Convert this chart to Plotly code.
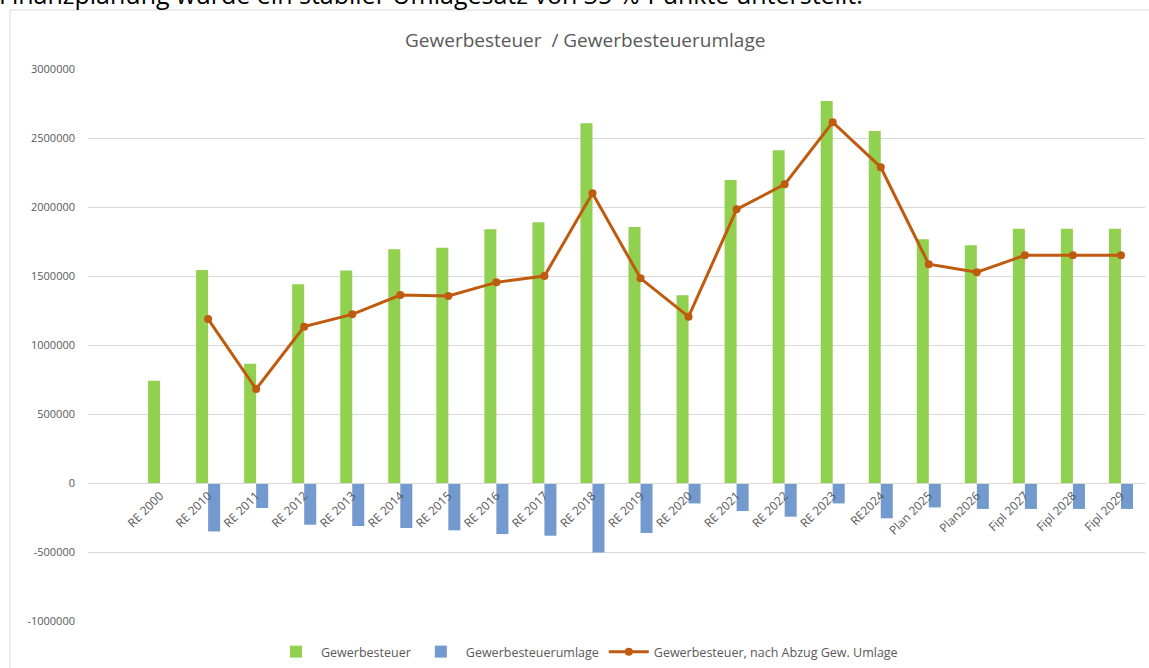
import plotly.graph_objects as go

categories = ["RE 2000", "RE 2010", "RE 2011", "RE 2012", "RE 2013", "RE 2014", "RE 2015",
              "RE 2016", "RE 2017", "RE 2018", "RE 2019", "RE 2020", "RE 2021", "RE 2022",
              "RE 2023", "RE2024", "Plan 2025", "Plan2026", "Fipl 2027", "Fipl 2028", "Fipl 2029"]

gewerbesteuer = [741000, 1543000, 864000, 1440000, 1539000, 1693000, 1705000,
                 1838000, 1889000, 2606000, 1855000, 1360000, 2196000, 2411000,
                 2768000, 2551000, 1766000, 1722000, 1843000, 1843000, 1843000]

umlage = [None, -351000, -181000, -302000, -312000, -326000, -343000,
          -370000, -382000, -503000, -362000, -148000, -203000, -244000,
          -148000, -256000, -177000, -188000, -188000, -188000, -188000]

nach_abzug = [None, 1188000, 681000, 1133000, 1222000, 1362000, 1355000,
              1454000, 1500000, 2099000, 1483000, 1205000, 1983000, 2164000,
              2614000, 2288000, 1585000, 1527000, 1650000, 1650000, 1650000]

y_ticks = [-1000000, -500000, 0, 500000, 1000000, 1500000, 2000000, 2500000, 3000000]

xs = list(range(len(categories)))
GRAY = "#595959"
FONT = "Open Sans, Noto Sans, sans-serif"

fig = go.Figure()
fig.add_trace(go.Bar(x=xs, y=gewerbesteuer, name="Gewerbesteuer",
                     marker=dict(color="#92D050", line=dict(width=0))))
fig.add_trace(go.Bar(x=xs, y=umlage, name="Gewerbesteuerumlage",
                     marker=dict(color="#729ACE", line=dict(width=0))))
fig.add_trace(go.Scatter(x=xs, y=nach_abzug, name="Gewerbesteuer, nach Abzug Gew. Umlage",
                         mode="lines+markers",
                         line=dict(color="#C05A0E", width=3),
                         marker=dict(color="#C05A0E", size=8)))

W, H = 1149, 668
L, R, T, B = 88, 4, 69, 47
pw, ph = W - L - R, H - T - B

def px_x(x):
    return (x - L) / pw

def px_y(y):
    return (H - B - y) / ph

fig.update_layout(
    width=W, height=H,
    margin=dict(l=L, r=R, t=T, b=B, autoexpand=False),
    paper_bgcolor="white", plot_bgcolor="white",
    barmode="group", bargap=0.5, bargroupgap=0,
    font=dict(family=FONT, color=GRAY, size=12),
    showlegend=True,
    legend=dict(orientation="h", x=px_x(587), xanchor="center", y=px_y(652), yanchor="middle",
                font=dict(size=12.5, color=GRAY), bgcolor="rgba(0,0,0,0)", itemwidth=40),
    xaxis=dict(range=[-1.5, 20.5], tickmode="array", tickvals=xs, ticktext=categories,
               tickangle=-45, anchor="free", position=px_y(483), showgrid=False,
               showline=True, linecolor="#D9D9D9", linewidth=1, ticks="",
               tickfont=dict(size=12, color=GRAY), zeroline=False, automargin=False),
    yaxis=dict(range=[-1000000, 3000000], tickmode="array", tickvals=y_ticks,
               ticktext=[str(v) for v in y_ticks], showgrid=True, gridcolor="#D9D9D9",
               gridwidth=1, zeroline=False, showline=False, ticks="",
               ticklabelstandoff=12, tickfont=dict(size=11, color=GRAY), automargin=False),
    shapes=[dict(type="rect", xref="paper", yref="paper",
                 x0=px_x(10), x1=px_x(1170), y0=px_y(700), y1=px_y(10),
                 line=dict(color="#D9D9D9", width=1), fillcolor="rgba(0,0,0,0)", layer="below")],
    annotations=[
        dict(text="Gewerbesteuer  / Gewerbesteuerumlage", xref="paper", yref="paper",
             x=px_x(585), y=px_y(40), xanchor="center", yanchor="middle", showarrow=False,
             font=dict(size=19, color=GRAY, family=FONT)),
        dict(text="Finanzplanung wurde ein stabiler Umlagesatz von 35 %-Punkte unterstellt.",
             xref="paper", yref="paper", x=px_x(-3), y=px_y(-6), xanchor="left", yanchor="middle",
             showarrow=False, font=dict(size=25, color="#000000", family=FONT)),
    ],
)

fig.write_html("out.html", config={"displayModeBar": False},
               post_script="document.body.style.margin='0px';")
